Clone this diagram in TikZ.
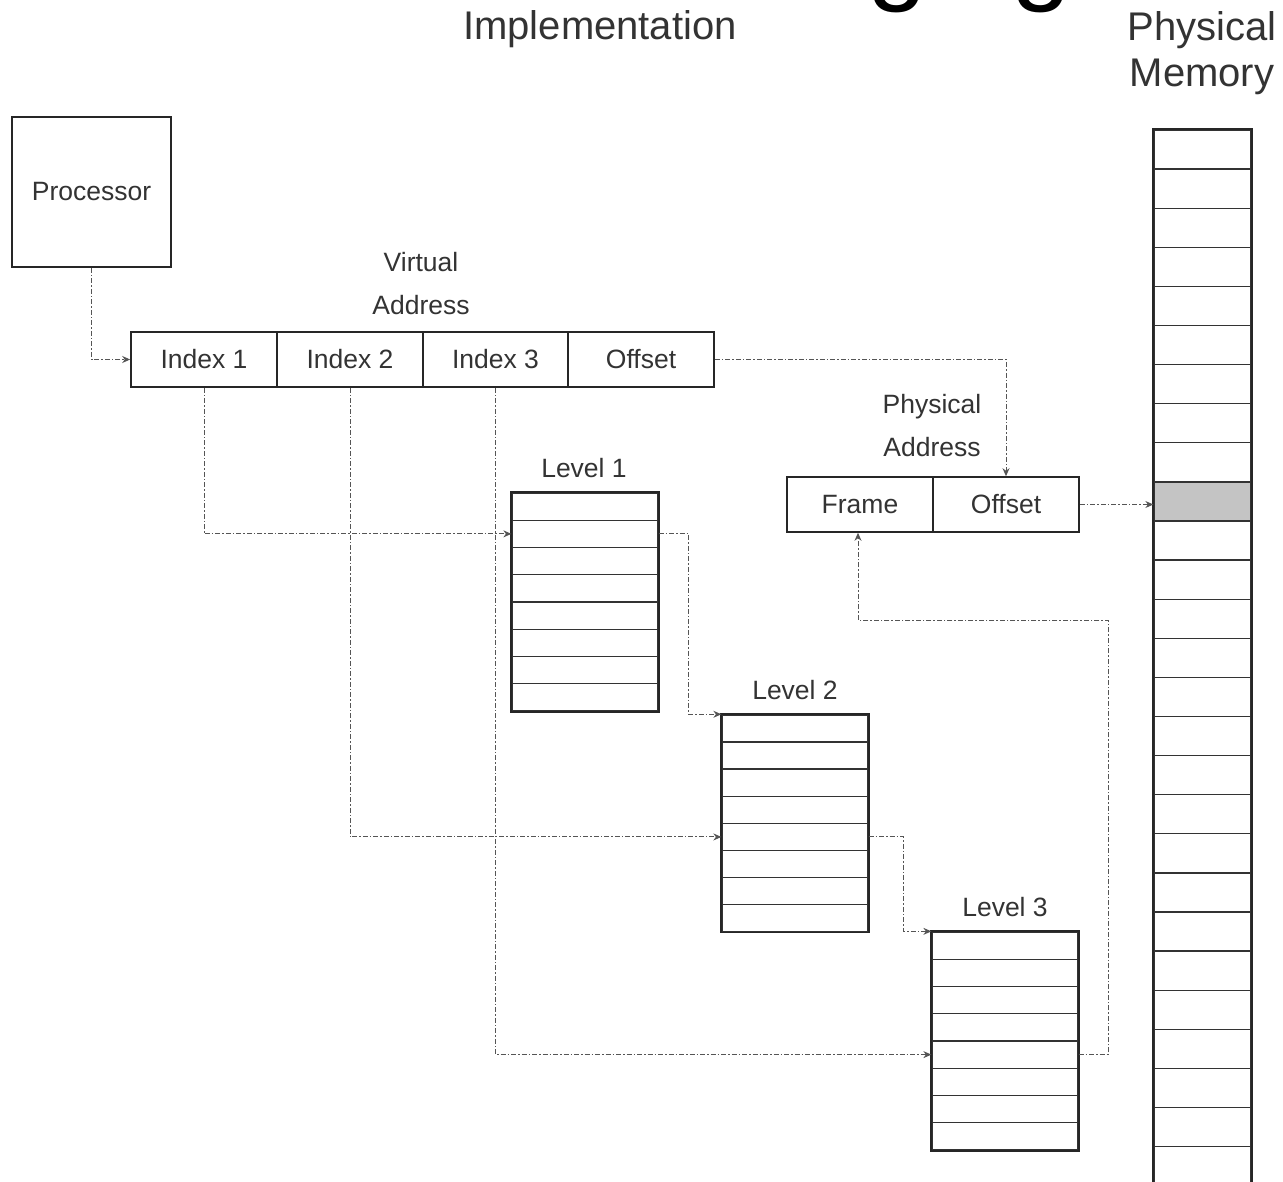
\documentclass[tikz,border=0pt]{standalone}
\usepackage{fontspec}
\setmainfont{Liberation Sans}
\usetikzlibrary{arrows.meta,calc}
\definecolor{txt}{HTML}{333333}
\definecolor{conn}{HTML}{555555}
\definecolor{shade}{HTML}{C4C4C4}
\begin{document}
\begin{tikzpicture}[x=1pt,y=-1pt,
  lbl/.style={font=\fontsize{26.5}{43}\selectfont, text=txt, align=center, inner sep=0},
  big/.style={font=\fontsize{40}{46}\selectfont, text=txt, align=center, inner sep=0},
  boxcell/.style={draw=black!85, line width=1.6pt, minimum height=55, minimum width=146, inner sep=0, font=\fontsize{26.5}{30}\selectfont, text=txt},
  row/.style={draw=black!80, line width=1.3pt, inner sep=0, minimum width=146, minimum height=27.25},
  memrow/.style={draw=black!80, line width=1.3pt, inner sep=0, minimum width=97, minimum height=39.1},
  frame/.style={draw=black!85, line width=1.8pt},
  link/.style={draw=conn, line width=1pt, dash pattern=on 5pt off 2pt on 1.5pt off 2pt, -{Stealth[length=8pt,width=7pt]}}
]
\useasboundingbox (0,0) rectangle (1283,1182);
\clip (0,0) rectangle (1283,1182);
\fill[white] (0,0) rectangle (1283,1182);

% title remnant (cut off at the top edge, as in the reference)
\node[anchor=base west, inner sep=0, font=\fontsize{108}{120}\selectfont] (title) at (735,-9) {Paging};
\node[big] (impl) at (600,29) {Implementation};
\node[big] (pmlabel) at (1202,53) {Physical\\Memory};

% processor
\node[draw=black!85, line width=1.6pt, minimum width=159, minimum height=150, inner sep=0, font=\fontsize{26.5}{30}\selectfont, text=txt] (proc) at (91.5,192) {Processor};

% virtual address
\node[lbl] (valabel) at (421,284) {Virtual\\Address};
\node[boxcell] (i1) at (204,359.5) {Index 1};
\node[boxcell] (i2) at (350,359.5) {Index 2};
\node[boxcell] (i3) at (495.5,359.5) {Index 3};
\node[boxcell] (voff) at (641,359.5) {Offset};

% physical address
\node[lbl] (palabel) at (932,426) {Physical\\Address};
\node[boxcell] (pframe) at (860,504.5) {Frame};
\node[boxcell] (poff) at (1006,504.5) {Offset};

% level tables
\node[lbl] (l1label) at (584,468) {Level 1};
\node[lbl] (l2label) at (795,690) {Level 2};
\node[lbl] (l3label) at (1005,907) {Level 3};
\foreach \i in {1,...,8}{
  \node[row] (L1-\i) at (585,{493+27.25*(\i-0.5)}) {};
  \node[row] (L2-\i) at (795,{715+27.1*(\i-0.5)}) {};
  \node[row] (L3-\i) at (1005,{932+27.25*(\i-0.5)}) {};
}
\draw[frame] (L1-1.north west) rectangle (L1-8.south east);
\draw[frame] (L2-1.north west) rectangle (L2-8.south east);
\draw[frame] (L3-1.north west) rectangle (L3-8.south east);

% physical memory
\foreach \i in {0,...,26}{
  \node[memrow] (pm-\i) at (1202.5,{130+39.1*(\i+0.5)}) {};
}
\node[memrow, fill=shade] (pm-9) at (1202.5,{130+39.1*9.5}) {};
\draw[frame] (pm-0.north west) rectangle (pm-26.south east);

% connectors
\draw[link] (proc.south) |- (i1.west);
\draw[link] (i1.south) |- (L1-2.west);
\draw[link] (L1-2.east) -- ++(30,0) |- (L2-1.north west);
\draw[link] (i2.south) |- (L2-5.west);
\draw[link] (L2-5.east) -- ++(35,0) |- (L3-1.north west);
\draw[link] (i3.south) |- (L3-5.west);
\coordinate (bend) at (1108,620);
\draw[link] (L3-5.east) -| (bend) -| ([xshift=-2pt]pframe.south);
\draw[link] (voff.east) -| (poff.north);
\draw[link] (poff.east) -- (poff.east -| pm-9.west);
\end{tikzpicture}
\end{document}
